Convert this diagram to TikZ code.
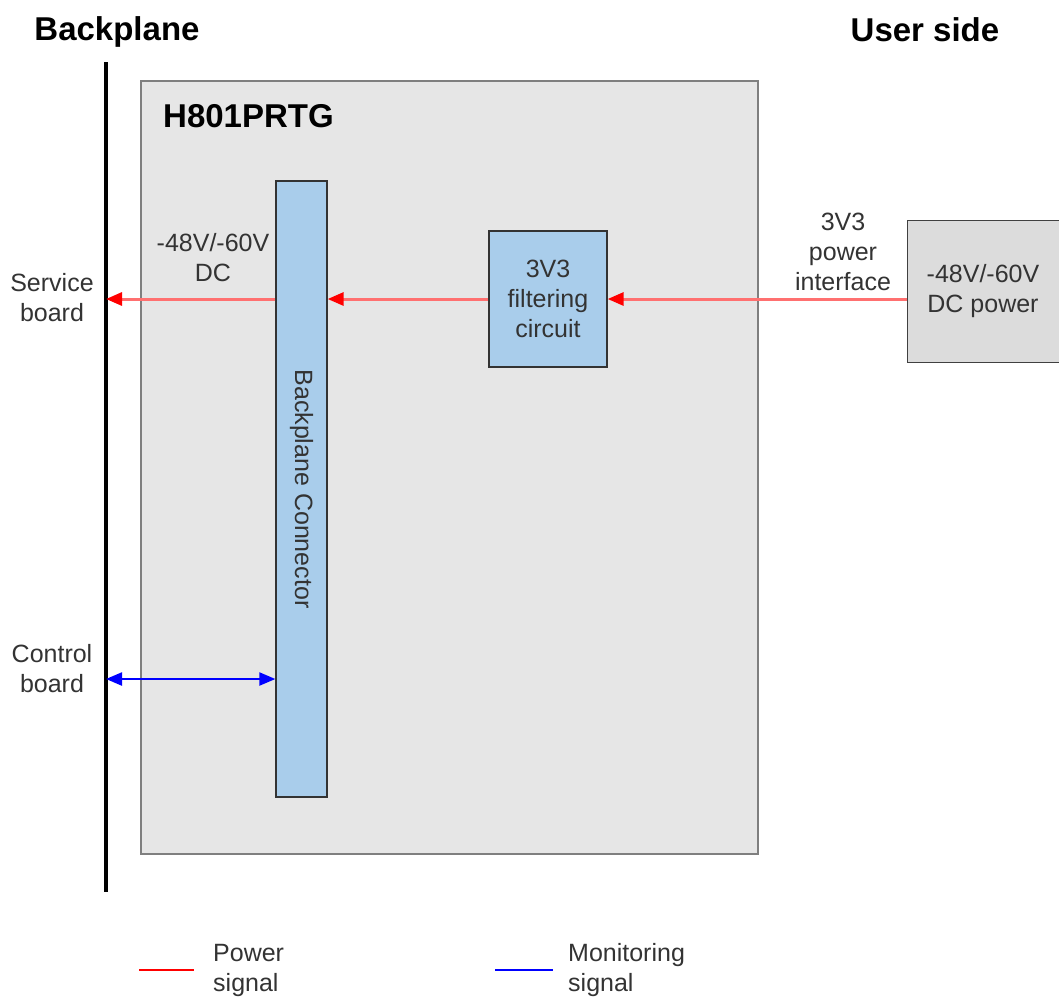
\documentclass[tikz,border=0pt]{standalone}
\usepackage{fontspec}
\setmainfont{Liberation Sans}
\usetikzlibrary{arrows.meta}
\definecolor{boxgray}{HTML}{E6E6E6}
\definecolor{boxedge}{HTML}{7F7F7F}
\definecolor{lblue}{HTML}{A9CDEB}
\definecolor{dcgray}{HTML}{DCDCDC}
\definecolor{txt}{HTML}{333333}
\definecolor{pline}{HTML}{FF7070}
\begin{document}
\begin{tikzpicture}[x=1pt,y=-1pt,
  lbl/.style={text=txt,font=\fontsize{25}{30}\selectfont,align=center,inner sep=0pt},
  title/.style={text=black,font=\fontsize{33}{38}\selectfont\bfseries,inner sep=0pt},
  bluebox/.style={draw=black!80,line width=1.3pt,fill=lblue},
  power/.style={draw=pline,line width=3pt,-{Triangle[length=16pt,width=13pt,color=red,fill=red]}},
  monitor/.style={draw=blue,line width=2.2pt,{Triangle[length=16pt,width=13pt]}-{Triangle[length=16pt,width=13pt]}}
]
\useasboundingbox (0,0) rectangle (1059,997);
% main box
\filldraw[fill=boxgray,draw=boxedge,line width=2pt] (141,81) rectangle (758,854);
\node[title,anchor=west] (h801) at (163,116) {H801PRTG};
% backplane line
\draw[line width=4pt] (106,62) -- (106,892);
\coordinate (bpS) at (106,299);
\coordinate (bpC) at (106,679);
\node[title] (bp) at (117,32) {Backplane};
\node[title] (us) at (925,30) {User side};
% boxes
\node[bluebox,minimum width=51pt,minimum height=616pt,inner sep=0pt] (conn) at (301.5,489) {};
\node[lbl,rotate=-90] (connl) at (conn.center) {Backplane Connector};
\node[bluebox,minimum width=118pt,minimum height=136pt,inner sep=0pt,lbl] (filt) at (548,299) {3V3\\filtering\\circuit};
\node[draw=black!75,line width=1.3pt,fill=dcgray,minimum width=160pt,minimum height=142pt,inner sep=0pt,lbl,anchor=north west] (dcp) at (907,220) {};
\node[lbl] (dcpl) at (983,291) {-48V/-60V\\DC power};
% arrows
\draw[power] (dcp.west |- filt.east) -- (filt.east);
\draw[power] (filt.west) -- (filt.west -| conn.east);
\draw[power] (conn.west |- filt.west) -- (bpS |- filt.west);
\draw[monitor] (bpC) -- (bpC -| conn.west);
% labels
\node[lbl] (dcl) at (213,258) {-48V/-60V\\DC};
\node[lbl] (pil) at (843,252) {3V3\\power\\interface};
\node[lbl] (sb) at (52,298) {Service\\board};
\node[lbl] (cb) at (52,669) {Control\\board};
% legend
\coordinate (r1) at (139,970); \coordinate (r2) at (194,970);
\draw[red,line width=2pt] (r1) -- (r2);
\node[lbl,align=left,anchor=west] (pl) at (213,970) {Power\\signal};
\coordinate (b1) at (495,970); \coordinate (b2) at (553,970);
\draw[blue,line width=2pt] (b1) -- (b2);
\node[lbl,align=left,anchor=west] (ml) at (568,970) {Monitoring\\signal};
\end{tikzpicture}
\end{document}
